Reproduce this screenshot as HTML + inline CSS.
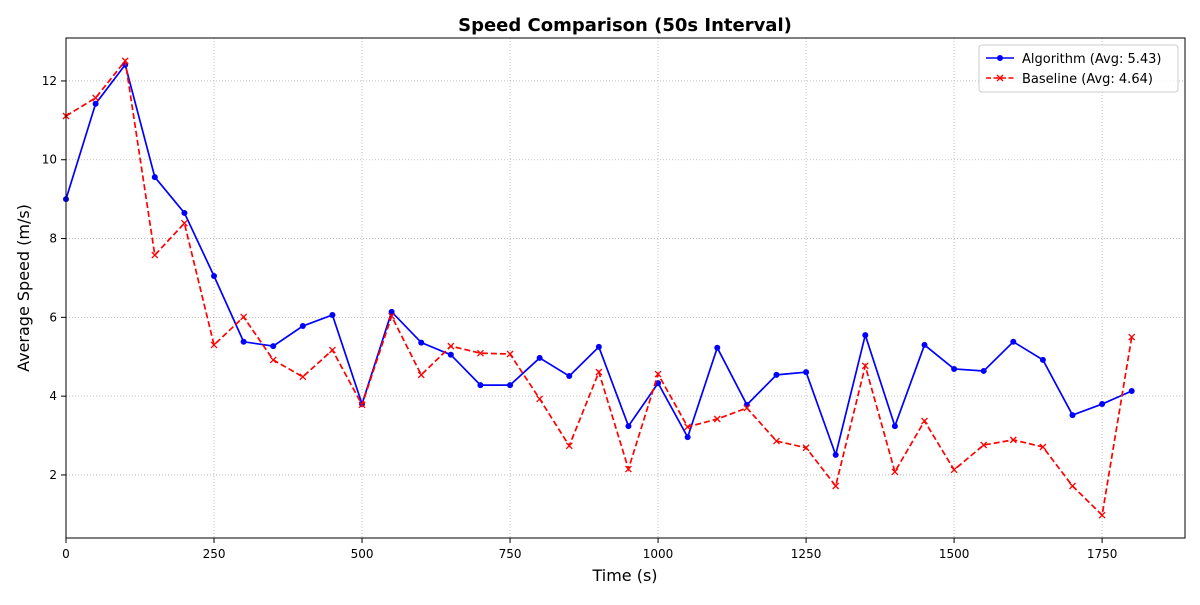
<!DOCTYPE html>
<html><head><meta charset="utf-8"><style>
body{margin:0;background:#fff;font-family:"Liberation Sans","DejaVu Sans",sans-serif}
svg text{font-family:"DejaVu Sans","Liberation Sans",sans-serif}
</style></head><body>
<svg id="chart" width="1200" height="600" xmlns="http://www.w3.org/2000/svg">
<rect width="1200" height="600" fill="#fff"/>
<g id="grid"></g>
<g id="series"></g>
<rect x="66" y="38" width="1119" height="500" fill="none" stroke="#000" stroke-width="1"/>
<g id="axes"></g>
<text x="625" y="31" text-anchor="middle" font-size="18" font-weight="bold">Speed Comparison (50s Interval)</text>
<text x="625" y="581" text-anchor="middle" font-size="16">Time (s)</text>
<text x="29" y="288" text-anchor="middle" font-size="16" transform="rotate(-90 29 288)">Average Speed (m/s)</text>
<g>
<rect x="979" y="45" width="199" height="47" rx="3" fill="#fff" fill-opacity="0.8" stroke="#ccc"/>
<g>
<line x1="986" y1="58" x2="1014" y2="58" stroke="#0000ff" stroke-width="1.5"/>
<circle cx="1000" cy="58" r="3" fill="#0000ff"/>
<text x="1022" y="63" font-size="13">Algorithm (Avg: 5.43)</text></g>
<g>
<line x1="986" y1="78" x2="1014" y2="78" stroke="#ff0000" stroke-width="1.5" stroke-dasharray="5,2.5"/>
<path d="M997,75L1003,81M1003,75L997,81" stroke="#ff0000" stroke-width="1.3"/>
<text x="1022" y="83" font-size="13">Baseline (Avg: 4.64)</text></g>
</g>
</svg>
<script>
const times=[0,50,100,150,200,250,300,350,400,450,500,550,600,650,700,750,800,850,900,950,1000,1050,1100,1150,1200,1250,1300,1350,1400,1450,1500,1550,1600,1650,1700,1750,1800];
const algorithm=[9.00,11.42,12.41,9.56,8.65,7.05,5.38,5.27,5.78,6.06,3.80,6.14,5.36,5.05,4.28,4.28,4.97,4.51,5.25,3.24,4.33,2.96,5.23,3.78,4.54,4.61,2.51,5.55,3.24,5.30,4.69,4.64,5.38,4.92,3.52,3.80,4.13];
const baseline=[11.11,11.57,12.51,7.58,8.39,5.30,6.01,4.92,4.49,5.17,3.78,6.03,4.54,5.27,5.09,5.07,3.93,2.74,4.61,2.15,4.56,3.22,3.42,3.70,2.86,2.69,1.72,4.77,2.08,3.37,2.13,2.76,2.89,2.71,1.72,0.98,5.50];
const xTicks=[0,250,500,750,1000,1250,1500,1750];
const yTicks=[2,4,6,8,10,12];
const NS="http://www.w3.org/2000/svg";
const X0=66,X1=1185,Y0=538,Y1=38,xmin=0,xmax=1890,ymin=0.40,ymax=13.09;
const sx=v=>X0+(v-xmin)/(xmax-xmin)*(X1-X0);
const sy=v=>Y0-(v-ymin)/(ymax-ymin)*(Y0-Y1);
function mk(t,a,p){const e=document.createElementNS(NS,t);for(const k in a)e.setAttribute(k,a[k]);p.appendChild(e);return e;}
const grid=document.getElementById('grid'),axes=document.getElementById('axes'),ser=document.getElementById('series');
xTicks.forEach(t=>{const x=sx(t);
const g=mk('line',{x1:x,x2:x,y1:Y1,y2:Y0,stroke:'#b0b0b0','stroke-width':0.8,'stroke-dasharray':'1,2'},grid);


mk('line',{x1:x,x2:x,y1:Y0,y2:Y0+5,stroke:'#000'},axes);
const tx=mk('text',{x:x,y:Y0+20,'text-anchor':'middle','font-size':12},axes);tx.textContent=t;

});
yTicks.forEach(t=>{const y=sy(t);
const g=mk('line',{x1:X0,x2:X1,y1:y,y2:y,stroke:'#b0b0b0','stroke-width':0.8,'stroke-dasharray':'1,2'},grid);


mk('line',{x1:X0-5,x2:X0,y1:y,y2:y,stroke:'#000'},axes);
const tx=mk('text',{x:X0-9,y:y+4,'text-anchor':'end','font-size':12},axes);tx.textContent=t;

});
function pts(arr){return arr.map((v,i)=>sx(times[i])+','+sy(v)).join(' ');}
const la=mk('polyline',{points:pts(algorithm),fill:'none',stroke:'#0000ff','stroke-width':1.7},ser);


algorithm.forEach((v,i)=>{const c=mk('circle',{cx:sx(times[i]),cy:sy(v),r:3,fill:'#0000ff'},ser);

});
const lb=mk('polyline',{points:pts(baseline),fill:'none',stroke:'#ff0000','stroke-width':1.7,'stroke-dasharray':'6,3'},ser);


baseline.forEach((v,i)=>{const x=sx(times[i]),y=sy(v);
const m=mk('path',{d:`M${x-3},${y-3}L${x+3},${y+3}M${x+3},${y-3}L${x-3},${y+3}`,stroke:'#ff0000','stroke-width':1.3},ser);

});
</script>
</body></html>
